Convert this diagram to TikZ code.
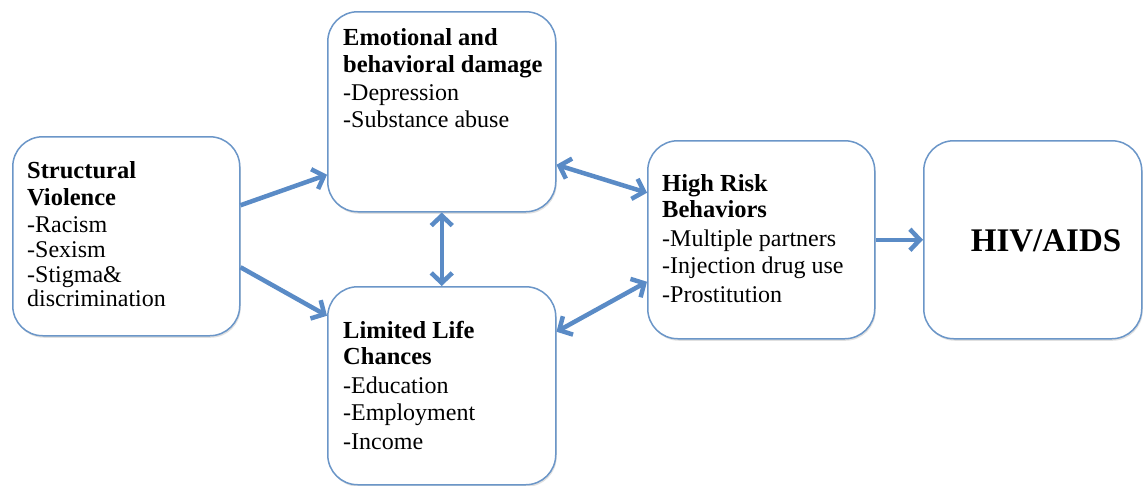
\documentclass[tikz,border=0pt]{standalone}
\usepackage{fontspec}
\setmainfont{Liberation Serif}
\usetikzlibrary{arrows.meta,shadows}
\definecolor{boxline}{HTML}{6B96C8}
\definecolor{arrowblue}{HTML}{5A8BC6}
\begin{document}
\begin{tikzpicture}[x=1pt,y=-1pt,
  panel/.style={draw=boxline, line width=1.5pt, rounded corners=30pt,
    fill=white, anchor=north west, inner sep=0pt,
    drop shadow={shadow xshift=1pt, shadow yshift=-2pt, opacity=0.2, fill=black!60}},
  ttl/.style={anchor=base west, inner sep=0pt, font=\bfseries\fontsize{24.5}{29}\selectfont},
  itm/.style={anchor=base west, inner sep=0pt, font=\fontsize{24}{28}\selectfont},
  >={Straight Barb[length=10pt,width=21pt]},
  conn/.style={draw=arrowblue, line width=4.5pt}]

\useasboundingbox (0,0) rectangle (1143,485);

% boxes
\node[panel, minimum width=227pt, minimum height=199pt] (sv)  at (12,136)  {};
\node[panel, minimum width=228pt, minimum height=200pt] (emo) at (327,11)  {};
\node[panel, minimum width=228pt, minimum height=198pt] (lim) at (327,286) {};
\node[panel, minimum width=227pt, minimum height=198pt] (hr)  at (647,140) {};
\node[panel, minimum width=218pt, minimum height=198pt] (hiv) at (923,140) {};

% Structural Violence
\node[ttl] (sv1) at (27,178) {Structural};
\node[ttl] (sv2) at (27,205) {Violence};
\node[itm] (sv3) at (27,232) {-Racism};
\node[itm] (sv4) at (27,257) {-Sexism};
\node[itm] (sv5) at (27,282) {-Stigma\&};
\node[itm] (sv6) at (27,306) {discrimination};

% Emotional and behavioral damage
\node[ttl] (emo1) at (343,45)  {Emotional and};
\node[ttl] (emo2) at (343,72)  {behavioral damage};
\node[itm] (emo3) at (343,100) {-Depression};
\node[itm] (emo4) at (343,127) {-Substance abuse};

% Limited Life Chances
\node[ttl] (lim1) at (343,338) {Limited Life};
\node[ttl] (lim2) at (343,364) {Chances};
\node[itm] (lim3) at (343,393) {-Education};
\node[itm] (lim4) at (343,420) {-Employment};
\node[itm] (lim5) at (343,449) {-Income};

% High Risk Behaviors
\node[ttl] (hr1) at (662,191) {High Risk};
\node[ttl] (hr2) at (662,217) {Behaviors};
\node[itm] (hr3) at (662,246) {-Multiple partners};
\node[itm] (hr4) at (662,273) {-Injection drug use};
\node[itm] (hr5) at (662,302) {-Prostitution};

% HIV/AIDS
\node[anchor=base, inner sep=0pt, font=\bfseries\fontsize{33}{38}\selectfont] (hiv1) at (1046,251) {HIV/AIDS};

% connectors
\draw[conn,->]  ([yshift=31pt]sv.east)  -- ([yshift=-63pt]emo.west);
\draw[conn,->]  ([yshift=-31pt]sv.east) -- ([yshift=70pt]lim.west);
\draw[conn,<->] (emo.south) -- (lim.north);
\draw[conn,<->] ([yshift=-53pt]emo.east) -- ([yshift=47pt]hr.west);
\draw[conn,<->] ([yshift=54pt]lim.east)  -- ([yshift=-42pt]hr.west);
\draw[conn,->]  (hr.east) -- (hiv.west);
\end{tikzpicture}
\end{document}
